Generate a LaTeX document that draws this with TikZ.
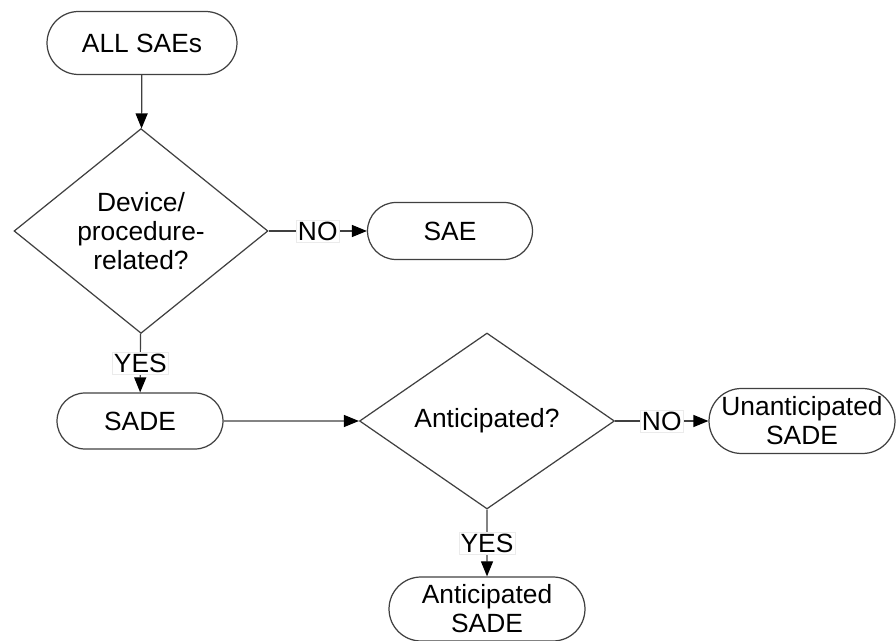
\documentclass[tikz,border=0pt]{standalone}
\usepackage{fontspec}
\setmainfont{Liberation Sans}
\usepackage{tikz}
\usetikzlibrary{shapes.geometric}
\usetikzlibrary{shapes.misc}
\usetikzlibrary{arrows.meta}
\usetikzlibrary{positioning}

\begin{document}
\begin{tikzpicture}[
    x=0.02cm, y=-0.02cm,
    every node/.style={draw=black!75, line width=0.7pt, align=center, inner sep=0pt,
                       font=\fontsize{15}{16.5}\selectfont},
    term/.style={rounded rectangle},
    decision/.style={diamond},
    edge label/.style={fill=white, draw=black!8, line width=0.3pt, inner sep=1pt},
    arr/.style={draw=black!75, line width=0.7pt, -{Triangle[length=0.3cm, width=0.24cm, color=black]}},
  ]
  \useasboundingbox (0,0) rectangle (896,641);

  % Nodes
  \node[term, minimum width=3.8cm, minimum height=1.26cm]  (all)     at (142, 43)  {ALL SAEs};
  \node[decision, minimum width=5.08cm, minimum height=3.46cm] (dev) at (141, 231) {Device/\\procedure-\\related?};
  \node[term, minimum width=3.3cm, minimum height=1.14cm]  (sae)     at (450, 231) {SAE};
  \node[term, minimum width=3.32cm, minimum height=1.12cm] (sade)    at (140, 421) {SADE};
  \node[decision, minimum width=5.1cm, minimum height=3.52cm] (ant)  at (487, 421) {Anticipated?};
  \node[term, minimum width=3.72cm, minimum height=1.3cm]  (unant)   at (802, 421) {Unanticipated\\SADE};
  \node[term, minimum width=3.92cm, minimum height=1.28cm] (antsade) at (487, 609) {Anticipated\\SADE};

  % Edges
  \draw[arr] (all) -- (dev);
  \draw[arr] (dev) -- node[edge label] {NO}  (sae);
  \draw[arr] (dev) -- node[edge label] {YES} (sade);
  \draw[arr] (sade) -- (ant);
  \draw[arr] (ant) -- node[edge label] {NO}  (unant);
  \draw[arr] (ant) -- node[edge label] {YES} (antsade);

\end{tikzpicture}
\end{document}
